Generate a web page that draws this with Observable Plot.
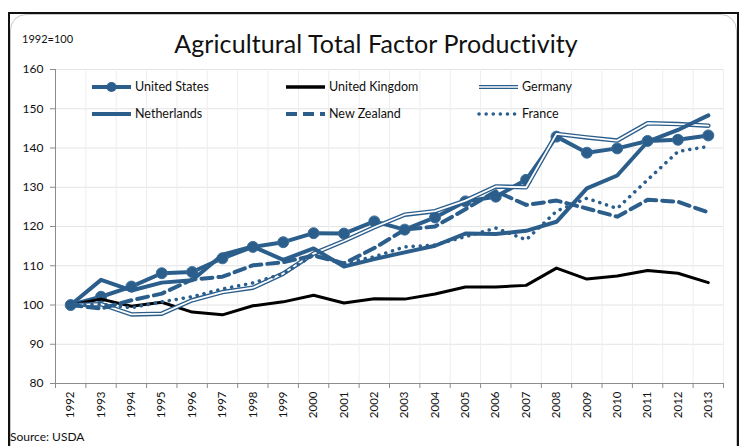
<!DOCTYPE html>
<html>
<head>
<meta charset="utf-8">
<script src="https://cdn.jsdelivr.net/npm/d3@7"></script>
<script src="https://cdn.jsdelivr.net/npm/@observablehq/plot@0.6"></script>
<style>
  html, body { margin: 0; padding: 0; background: #fff; }
  body { width: 743px; height: 446px; overflow: hidden; position: relative; font-family: Lato, "Open Sans", sans-serif; color: #111; }
  #frame { position: absolute; left: 8px; top: 12px; width: 731px; height: 460px; border: 2px solid #111; box-sizing: border-box; }
  #inner { position: absolute; left: 10px; top: 14px; width: 727px; height: 460px; border: 1px solid #c8c8c8; border-radius: 16px; box-sizing: border-box; }
  #unit { position: absolute; left: 22px; top: 32px; font-size: 11px; }
  #title { position: absolute; left: 0; width: 752px; top: 28px; text-align: center; font-size: 25px; letter-spacing: 0.1px; }
  #chart { position: absolute; left: 0; top: 50px; }
  #legend { position: absolute; left: 0; top: 0; }
  #source { position: absolute; left: 10px; top: 429px; font-size: 12px; }
</style>
</head>
<body>
<div id="frame"></div>
<div id="inner"></div>
<div id="unit">1992=100</div>
<div id="title">Agricultural Total Factor Productivity</div>
<div id="chart"></div>
<svg id="legend" width="743" height="140"></svg>
<div id="source">Source: USDA</div>
<script>
const years = [1992,1993,1994,1995,1996,1997,1998,1999,2000,2001,2002,2003,2004,2005,2006,2007,2008,2009,2010,2011,2012,2013];
const unitedStates = [100,102.1,104.7,108.1,108.4,111.9,114.8,116.0,118.3,118.2,121.3,119.2,122.3,126.4,127.6,131.9,142.9,138.8,139.9,141.8,142.1,143.2];
const unitedKingdom = [100,101.5,99.7,100.7,98.2,97.5,99.8,100.8,102.5,100.5,101.6,101.5,102.8,104.6,104.6,105.0,109.4,106.6,107.4,108.8,108.1,105.7];
const germany = [100,100.2,97.6,97.8,101.2,103.3,104.4,108.0,113.1,116.3,119.8,123.0,123.9,126.6,130.2,130.0,143.6,142.7,141.9,146.3,146.1,145.7];
const netherlands = [100,106.4,103.7,105.7,106.3,112.8,114.9,111.5,114.4,109.8,111.7,113.4,115.1,118.2,118.1,118.9,121.2,129.7,133.0,141.6,144.6,148.3];
const newZealand = [100,99.1,101.2,102.9,106.5,107.2,110.1,110.9,112.6,110.6,114.5,119.2,120.0,124.4,129.0,125.5,126.6,124.6,122.5,126.8,126.3,123.6];
const france = [100,100.2,99.3,100.8,102.1,104.1,105.6,108.0,112.7,110.7,112.3,114.8,115.3,117.4,119.6,116.6,123.9,127.2,124.6,131.9,139.1,140.4];
const yTicks = [80,90,100,110,120,130,140,150,160];
const seriesNames = ["United States","United Kingdom","Germany","Netherlands","New Zealand","France"];

const BLUE = "#2c5e8c";
const rows = (vals) => years.map((year, i) => ({year, value: vals[i]}));
const boundaries = [...years.map(y => y - 0.5), years[years.length - 1] + 0.5];

const chart = Plot.plot({
  width: 743,
  height: 390,
  marginLeft: 55,
  marginRight: 20,
  marginTop: 19,
  marginBottom: 57,
  style: {fontFamily: "Lato, 'Open Sans', sans-serif", fontSize: "12px", color: "#111", background: "transparent", overflow: "visible"},
  x: {type: "linear", domain: [boundaries[0], boundaries[boundaries.length - 1]], axis: null, label: null},
  y: {domain: [80, 160], axis: null, label: null},
  marks: [
    Plot.gridY(yTicks, {stroke: "#e4e4e4", strokeOpacity: 1}),
    Plot.ruleX(boundaries.slice(1), {stroke: "#eeeeee", strokeOpacity: 1}),
    Plot.ruleY([80], {stroke: "#8c8c8c"}),
    Plot.ruleX([boundaries[0]], {stroke: "#8c8c8c"}),
    Plot.axisY(yTicks, {label: null, tickSize: 5, tickPadding: 7, stroke: "#8c8c8c", fontSize: 12, fill: "#111"}),
    Plot.axisX(boundaries, {label: null, tickSize: 5, tickFormat: () => "", stroke: "#8c8c8c"}),
    Plot.axisX(years, {label: null, tickSize: 0, tickPadding: 8, tickRotate: -90, tickFormat: d => String(d), fontSize: 11.5, fill: "#111"}),
    // United States
    Plot.line(rows(unitedStates), {x: "year", y: "value", stroke: BLUE, strokeWidth: 4}),
    Plot.dot(rows(unitedStates), {x: "year", y: "value", r: 5.5, fill: BLUE, stroke: "#3d6f9c", strokeWidth: 1}),
    // United Kingdom
    Plot.line(rows(unitedKingdom), {x: "year", y: "value", stroke: "#000", strokeWidth: 3}),
    // Germany (double line)
    Plot.line(rows(germany), {x: "year", y: "value", stroke: BLUE, strokeWidth: 4.5}),
    Plot.line(rows(germany), {x: "year", y: "value", stroke: "#fff", strokeWidth: 1.8}),
    // Netherlands
    Plot.line(rows(netherlands), {x: "year", y: "value", stroke: BLUE, strokeWidth: 4}),
    // New Zealand
    Plot.line(rows(newZealand), {x: "year", y: "value", stroke: BLUE, strokeWidth: 4, strokeDasharray: "11,6"}),
    // France
    Plot.line(rows(france), {x: "year", y: "value", stroke: BLUE, strokeWidth: 3.5, strokeDasharray: "0.1,7", strokeLinecap: "round"})
  ]
});
document.getElementById("chart").appendChild(chart);

// Legend (overlay)
const lg = d3.select("#legend");
const legendItems = [
  {name: seriesNames[0], x0: 92, x1: 131, y: 87, kind: "us"},
  {name: seriesNames[1], x0: 286, x1: 325, y: 87, kind: "uk"},
  {name: seriesNames[2], x0: 479, x1: 518, y: 87, kind: "de"},
  {name: seriesNames[3], x0: 92, x1: 131, y: 114, kind: "nl"},
  {name: seriesNames[4], x0: 286, x1: 325, y: 114, kind: "nz"},
  {name: seriesNames[5], x0: 479, x1: 518, y: 114, kind: "fr"}
];
for (const it of legendItems) {
  const g = lg.append("g");
  const ln = () => g.append("line").attr("x1", it.x0).attr("x2", it.x1).attr("y1", it.y).attr("y2", it.y);
  if (it.kind === "us") { ln().attr("stroke", BLUE).attr("stroke-width", 4); g.append("circle").attr("cx", (it.x0+it.x1)/2).attr("cy", it.y).attr("r", 5).attr("fill", BLUE); }
  if (it.kind === "uk") ln().attr("stroke", "#000").attr("stroke-width", 3.5);
  if (it.kind === "de") { ln().attr("stroke", BLUE).attr("stroke-width", 4); ln().attr("stroke", "#fff").attr("stroke-width", 1.6); }
  if (it.kind === "nl") ln().attr("stroke", BLUE).attr("stroke-width", 4);
  if (it.kind === "nz") ln().attr("stroke", BLUE).attr("stroke-width", 4).attr("stroke-dasharray", "11,6");
  if (it.kind === "fr") ln().attr("stroke", BLUE).attr("stroke-width", 3.5).attr("stroke-dasharray", "0.1,7").attr("stroke-linecap", "round");
  g.append("text").attr("x", it.x1 + 4).attr("y", it.y).attr("dy", "0.35em")
    .attr("font-family", "Lato, 'Open Sans', sans-serif").attr("font-size", 12.5).attr("fill", "#111").text(it.name);
}
</script>
</body>
</html>
